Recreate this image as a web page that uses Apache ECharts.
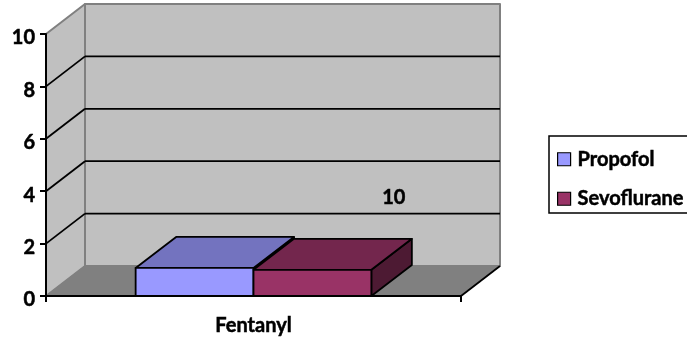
<!DOCTYPE html>
<html>
<head>
<meta charset="utf-8">
<style>html,body{margin:0;padding:0;background:#fff}#chart{width:687px;height:341px}</style>
<script src="https://cdn.jsdelivr.net/npm/echarts@6/dist/echarts.min.js"></script>
</head>
<body>
<div id="chart"></div>
<script>
// Chart values
const categories = ['Fentanyl'];
const propofol = [1.07];
const sevoflurane = [1.0];
const wallLevels = [2, 4, 6, 8];
const yTicks = { min: 0, max: 10, interval: 2 };
const noteText = '10';

// Oblique projection of the box: how far the rear plane shifts from the front plane
const DEPTH = [39, -30];
const BAR_DEPTH = [40.5, -31];
const BAR_FRACTION = 0.284;

const poly = (points, fill, stroke, lineWidth, z2) => ({
  type: 'polygon',
  z2: z2 || 0,
  shape: { points },
  style: { fill, stroke: stroke || null, lineWidth: lineWidth || 0, lineJoin: 'round' }
});
const line = (a, b, stroke, lineWidth, z2) => ({
  type: 'line',
  z2: z2 || 0,
  shape: { x1: a[0], y1: a[1], x2: b[0], y2: b[1] },
  style: { stroke, lineWidth }
});
const back = (p, d) => [p[0] + d[0], p[1] + d[1]];

// Side wall, rear wall, floor and the gridlines running across them
function renderBox(params, api) {
  const c = params.coordSys;
  const L = c.x, R = c.x + c.width, T = c.y, B = c.y + c.height;
  const grey = '#808080';
  const kids = [
    poly([[L, T], back([L, T], DEPTH), back([L, B], DEPTH), [L, B]], '#c0c0c0', grey, 2),
    poly([back([L, T], DEPTH), back([R, T], DEPTH), back([R, B], DEPTH), back([L, B], DEPTH)], '#c0c0c0', grey, 2),
    poly([[L, B], back([L, B], DEPTH), back([R, B], DEPTH), [R, B]], '#808080', grey, 1)
  ];
  wallLevels.forEach(v => {
    const y = api.coord([0, v])[1];
    kids.push(line([L, y], back([L, y], DEPTH), '#000', 1.8, 2));
    kids.push(line(back([L, y], DEPTH), back([R, y], DEPTH), '#000', 1.8, 2));
  });
  kids.push(line([R, B], back([R, B], DEPTH), '#000', 1.8, 2));
  return { type: 'group', children: kids };
}

// One extruded bar; offset places it left (-1) or right (0) of the category centre
function barRenderer(offset, faces) {
  return function (params, api) {
    const centre = api.coord([api.value(0), 0]);
    const w = api.size([1, 0])[0] * BAR_FRACTION;
    const x0 = centre[0] + offset * w, x1 = x0 + w;
    const y0 = centre[1], y1 = api.coord([api.value(0), api.value(1)])[1];
    const a = [x0, y1], b = [x1, y1], c = [x1, y0], d = [x0, y0];
    return {
      type: 'group',
      children: [
        poly([b, c, back(c, BAR_DEPTH), back(b, BAR_DEPTH)], faces.side, '#000', 1.8),
        poly([a, b, back(b, BAR_DEPTH), back(a, BAR_DEPTH)], faces.top, '#000', 1.8),
        poly([a, b, c, d], faces.front, '#000', 1.8)
      ]
    };
  };
}

const axisFont = {
  fontFamily: 'Lato', fontWeight: 'bold', fontSize: 20, color: '#000',
  textBorderColor: '#000', textBorderWidth: 0.5
};
const axisLine = { show: true, lineStyle: { color: '#000', width: 2 } };
const axisTick = { show: true, length: 6, lineStyle: { color: '#000', width: 2 } };

const chart = echarts.init(document.getElementById('chart'), null, { renderer: 'canvas' });
chart.setOption({
  animation: false,
  backgroundColor: '#fff',
  grid: { left: 46, top: 34, width: 415, height: 262 },
  xAxis: {
    type: 'category',
    data: categories,
    z: 6,
    axisLine,
    axisTick,
    axisLabel: { ...axisFont, margin: 20 }
  },
  yAxis: {
    type: 'value',
    ...yTicks,
    z: 6,
    axisLine,
    axisTick,
    splitLine: { show: false },
    axisLabel: { ...axisFont, margin: 11, verticalAlign: 'top', lineHeight: 8 }
  },
  legend: {
    left: 549,
    top: 136,
    orient: 'vertical',
    padding: [13, 60, 4, 8],
    itemGap: 19,
    itemWidth: 13,
    itemHeight: 13,
    borderColor: '#000',
    borderWidth: 1.5,
    selectedMode: false,
    textStyle: { ...axisFont, padding: [0, 0, 0, 2] },
    data: [
      { name: 'Propofol', icon: 'rect', itemStyle: { color: '#9999ff', borderColor: '#000', borderWidth: 1.2 } },
      { name: 'Sevoflurane', icon: 'rect', itemStyle: { color: '#993366', borderColor: '#000', borderWidth: 1.2 } }
    ]
  },
  graphic: [{
    type: 'text',
    left: 382,
    top: 187,
    z: 10,
    style: { text: noteText, fontFamily: 'Lato', fontWeight: 'bold', fontSize: 20, fill: '#000', stroke: '#000', lineWidth: 0.5 }
  }],
  series: [
    { type: 'custom', name: 'box', silent: true, z: 1, data: [[0, 0]], renderItem: renderBox },
    {
      type: 'custom', name: 'Propofol', z: 2,
      itemStyle: { color: '#9999ff' },
      data: propofol.map((v, i) => [i, v]),
      renderItem: barRenderer(-1, { front: '#9999ff', top: '#7373bf', side: '#4d4d80' })
    },
    {
      type: 'custom', name: 'Sevoflurane', z: 3,
      itemStyle: { color: '#993366' },
      data: sevoflurane.map((v, i) => [i, v]),
      renderItem: barRenderer(0, { front: '#993366', top: '#73264d', side: '#4d1a33' })
    }
  ]
});
</script>
</body>
</html>
